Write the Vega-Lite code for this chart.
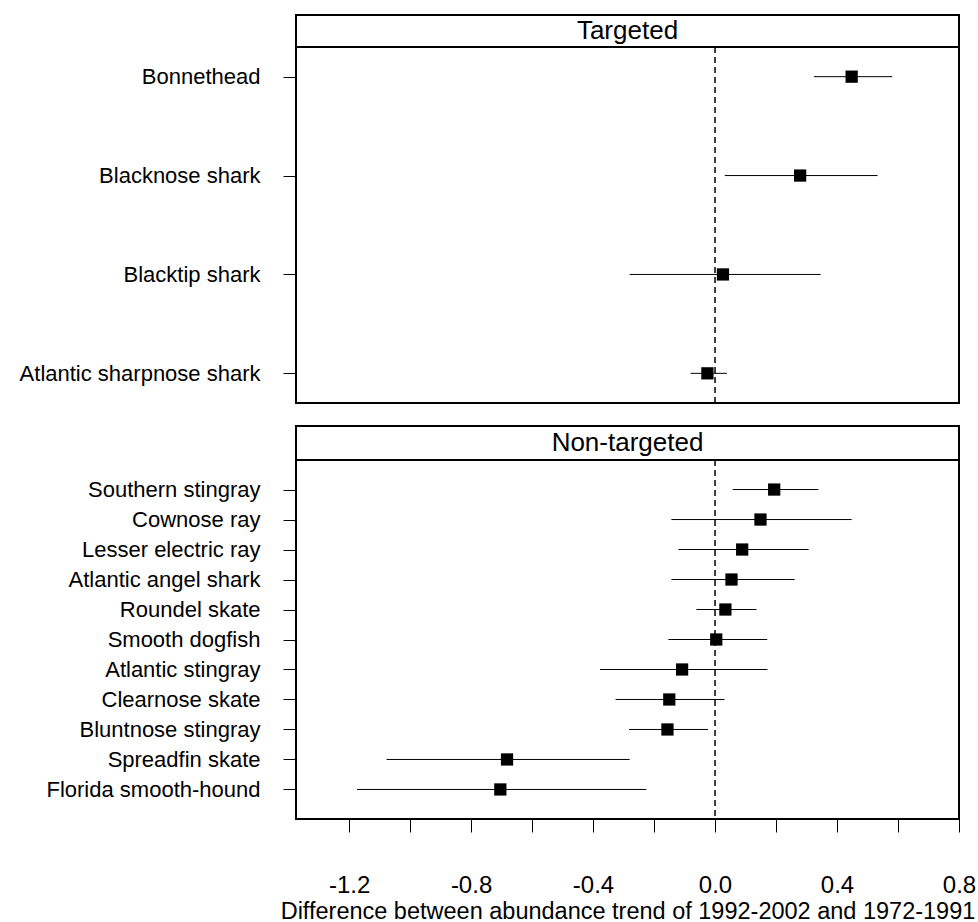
{
  "$schema": "https://vega.github.io/schema/vega-lite/v6.json",
  "padding": {"left": 18, "top": 13, "right": 0, "bottom": 0},
  "background": "white",
  "config": {
    "font": "Liberation Sans",
    "view": {"stroke": "black", "strokeWidth": 2},
    "axis": {"labelColor": "black", "tickColor": "black", "titleColor": "black", "domain": false, "grid": false, "labelFont": "Liberation Sans", "titleFont": "Liberation Sans", "titleFontWeight": "normal"}
  },
  "datasets": {
    "forest": [
      {"group": "Targeted", "species": "Bonnethead", "diff": 0.448, "lower": 0.324, "upper": 0.581},
      {"group": "Targeted", "species": "Blacknose shark", "diff": 0.279, "lower": 0.032, "upper": 0.533},
      {"group": "Targeted", "species": "Blacktip shark", "diff": 0.026, "lower": -0.28, "upper": 0.346},
      {"group": "Targeted", "species": "Atlantic sharpnose shark", "diff": -0.025, "lower": -0.08, "upper": 0.039},
      {"group": "Non-targeted", "species": "Southern stingray", "diff": 0.194, "lower": 0.058, "upper": 0.339},
      {"group": "Non-targeted", "species": "Cownose ray", "diff": 0.149, "lower": -0.143, "upper": 0.448},
      {"group": "Non-targeted", "species": "Lesser electric ray", "diff": 0.089, "lower": -0.12, "upper": 0.307},
      {"group": "Non-targeted", "species": "Atlantic angel shark", "diff": 0.054, "lower": -0.143, "upper": 0.261},
      {"group": "Non-targeted", "species": "Roundel skate", "diff": 0.034, "lower": -0.061, "upper": 0.136},
      {"group": "Non-targeted", "species": "Smooth dogfish", "diff": 0.004, "lower": -0.153, "upper": 0.171},
      {"group": "Non-targeted", "species": "Atlantic stingray", "diff": -0.108, "lower": -0.377, "upper": 0.172},
      {"group": "Non-targeted", "species": "Clearnose skate", "diff": -0.15, "lower": -0.326, "upper": 0.031},
      {"group": "Non-targeted", "species": "Bluntnose stingray", "diff": -0.156, "lower": -0.282, "upper": -0.023},
      {"group": "Non-targeted", "species": "Spreadfin skate", "diff": -0.682, "lower": -1.077, "upper": -0.28},
      {"group": "Non-targeted", "species": "Florida smooth-hound", "diff": -0.704, "lower": -1.174, "upper": -0.225}
    ]
  },
  "spacing": 19,
  "vconcat": [
    {
      "spacing": 0,
      "bounds": "flush",
      "vconcat": [
        {
          "width": 663, "height": 32,
          "data": {"values": [{"panel": "Targeted", "x0": 0, "x1": 1, "xm": 0.5}]},
          "layer": [
            {
              "mark": {"type": "rect", "fill": "white", "stroke": "black", "strokeWidth": 2},
              "encoding": {
                "x": {"field": "x0", "type": "quantitative", "scale": {"domain": [0, 1], "nice": false}, "axis": null},
                "x2": {"field": "x1"},
                "y": {"field": "x0", "type": "quantitative", "scale": {"domain": [0, 1], "nice": false}, "axis": null},
                "y2": {"field": "x1"}
              }
            },
            {
              "mark": {"type": "text", "fontSize": 26, "color": "black", "font": "Liberation Sans", "baseline": "middle"},
              "encoding": {
                "x": {"field": "xm", "type": "quantitative"},
                "y": {"field": "xm", "type": "quantitative"},
                "text": {"field": "panel", "type": "nominal"}
              }
            }
          ]
        },
        {
          "width": 663, "height": 356,
          "data": {"name": "forest"},
          "transform": [{"filter": "datum.group == 'Targeted'"}],
          "layer": [
            {
              "data": {"values": [{"ref": 0}]},
              "mark": {"type": "rule", "color": "black", "strokeWidth": 1.5, "strokeDash": [6, 4]},
              "encoding": {"x": {"field": "ref", "type": "quantitative", "scale": {"domain": [-1.374, 0.8], "nice": false, "zero": false}, "axis": null}}
            },
            {
              "mark": {"type": "rule", "color": "black", "strokeWidth": 1},
              "encoding": {
                "x": {"field": "lower", "type": "quantitative", "scale": {"domain": [-1.374, 0.8], "nice": false, "zero": false}, "axis": null},
                "x2": {"field": "upper"},
                "y": {"field": "species", "type": "nominal", "sort": ["Bonnethead", "Blacknose shark", "Blacktip shark", "Atlantic sharpnose shark"], "scale": {"type": "point", "padding": 0.3}, "axis": {"title": null, "labelFontSize": 22, "tickSize": 13, "labelPadding": 23, "labelLimit": 0}}
              }
            },
            {
              "mark": {"type": "point", "shape": "square", "filled": true, "size": 150, "color": "black", "opacity": 1},
              "encoding": {
                "x": {"field": "diff", "type": "quantitative"},
                "y": {"field": "species", "type": "nominal", "sort": ["Bonnethead", "Blacknose shark", "Blacktip shark", "Atlantic sharpnose shark"]}
              }
            }
          ]
        }
      ]
    },
    {
      "spacing": 0,
      "bounds": "flush",
      "vconcat": [
        {
          "width": 663, "height": 34,
          "data": {"values": [{"panel": "Non-targeted", "x0": 0, "x1": 1, "xm": 0.5}]},
          "layer": [
            {
              "mark": {"type": "rect", "fill": "white", "stroke": "black", "strokeWidth": 2},
              "encoding": {
                "x": {"field": "x0", "type": "quantitative", "scale": {"domain": [0, 1], "nice": false}, "axis": null},
                "x2": {"field": "x1"},
                "y": {"field": "x0", "type": "quantitative", "scale": {"domain": [0, 1], "nice": false}, "axis": null},
                "y2": {"field": "x1"}
              }
            },
            {
              "mark": {"type": "text", "fontSize": 26, "color": "black", "font": "Liberation Sans", "baseline": "middle"},
              "encoding": {
                "x": {"field": "xm", "type": "quantitative"},
                "y": {"field": "xm", "type": "quantitative"},
                "text": {"field": "panel", "type": "nominal"}
              }
            }
          ]
        },
        {
          "width": 663, "height": 359,
          "data": {"name": "forest"},
          "transform": [{"filter": "datum.group == 'Non-targeted'"}],
          "layer": [
            {
              "data": {"values": [{"ref": 0}]},
              "mark": {"type": "rule", "color": "black", "strokeWidth": 1.5, "strokeDash": [6, 4]},
              "encoding": {"x": {"field": "ref", "type": "quantitative", "scale": {"domain": [-1.374, 0.8], "nice": false, "zero": false},
                "axis": {"title": "Difference between abundance trend of 1992-2002 and 1972-1991", "titleFontSize": 23.5, "titlePadding": 2, "values": [-1.2, -1.0, -0.8, -0.6, -0.4, -0.2, 0, 0.2, 0.4, 0.6, 0.8], "labelExpr": "abs(round(datum.value*10)) % 4 == 0 ? (datum.value < 0 ? '-' + format(-datum.value, '.1f') : format(datum.value, '.1f')) : ''", "labelFontSize": 24, "tickSize": 13, "labelPadding": 41, "labelFlush": false, "labelOverlap": false, "labelBound": false}}}
            },
            {
              "mark": {"type": "rule", "color": "black", "strokeWidth": 1},
              "encoding": {
                "x": {"field": "lower", "type": "quantitative"},
                "x2": {"field": "upper"},
                "y": {"field": "species", "type": "nominal", "sort": ["Southern stingray", "Cownose ray", "Lesser electric ray", "Atlantic angel shark", "Roundel skate", "Smooth dogfish", "Atlantic stingray", "Clearnose skate", "Bluntnose stingray", "Spreadfin skate", "Florida smooth-hound"], "scale": {"type": "point", "padding": 0.985}, "axis": {"title": null, "labelFontSize": 22, "tickSize": 13, "labelPadding": 23, "labelLimit": 0}}
              }
            },
            {
              "mark": {"type": "point", "shape": "square", "filled": true, "size": 150, "color": "black", "opacity": 1},
              "encoding": {
                "x": {"field": "diff", "type": "quantitative"},
                "y": {"field": "species", "type": "nominal", "sort": ["Southern stingray", "Cownose ray", "Lesser electric ray", "Atlantic angel shark", "Roundel skate", "Smooth dogfish", "Atlantic stingray", "Clearnose skate", "Bluntnose stingray", "Spreadfin skate", "Florida smooth-hound"]}
              }
            }
          ]
        }
      ]
    }
  ]
}
